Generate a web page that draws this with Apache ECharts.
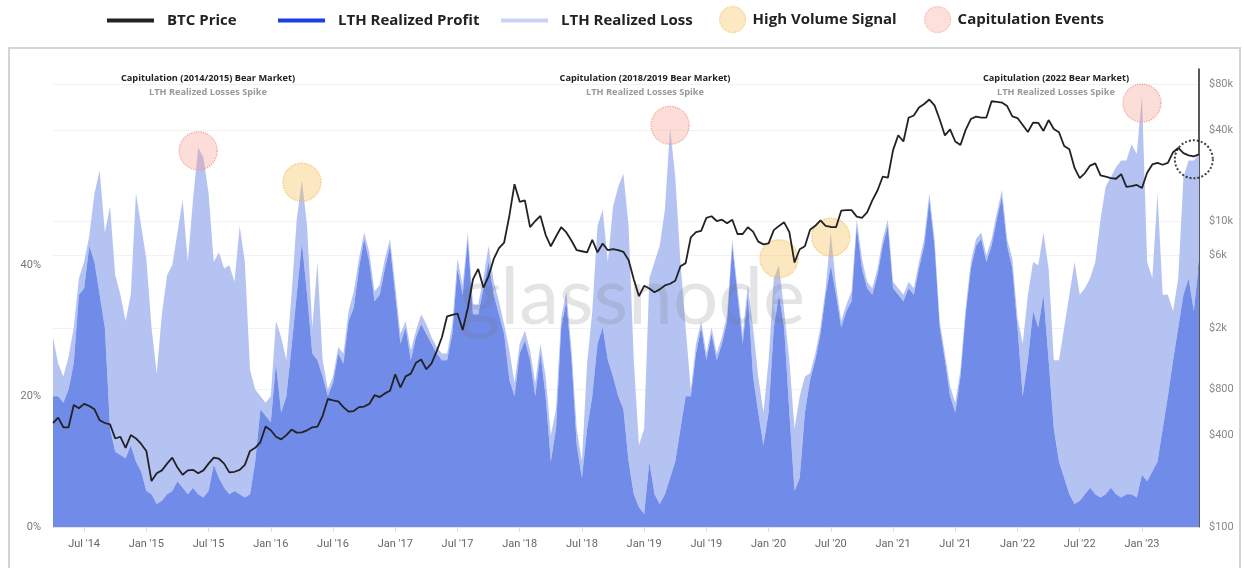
<!DOCTYPE html>
<html>
<head>
<meta charset="utf-8">
<script src="https://cdn.jsdelivr.net/npm/echarts@6/dist/echarts.min.js"></script>
<style>
  html, body { margin: 0; padding: 0; background: #fff; }
  #chart { width: 1244px; height: 568px; }
</style>
</head>
<body>
<div id="chart"></div>
<script>
// semi-monthly sample dates, 2014-04-01 .. 2023-06-15
var dates = [];
for (var y = 2014; y <= 2023; y++) {
  for (var m = 1; m <= 12; m++) {
    ['01', '15'].forEach(function (d) {
      var s = y + '-' + (m < 10 ? '0' + m : m) + '-' + d;
      if (s >= '2014-04-01' && s <= '2023-06-15') dates.push(s);
    });
  }
}

// BTC price (USD)
var btcPrice = [
  480, 520, 450, 450, 630, 600, 640, 620, 590, 500, 480, 470, 380, 390, 330, 400, 380, 350,
  315, 200, 225, 235, 260, 285, 245, 220, 235, 237, 225, 235, 260, 285, 280, 260, 228, 230, 237, 255, 315, 330, 360, 455,
  430, 390, 375, 400, 435, 415, 417, 430, 450, 455, 535, 690, 675, 665, 610, 570, 575, 610, 615, 640, 730, 710, 750, 780,
  1000, 820, 970, 1010, 1190, 1250, 1080, 1180, 1420, 1750, 2400, 2450, 2500, 1950, 2720, 4200, 4900, 3700, 4400, 5700, 6700, 7300, 10900, 17600,
  13500, 13800, 9200, 10100, 10900, 8200, 6900, 8000, 9200, 8500, 7500, 6500, 6400, 6300, 7600, 6300, 7200, 6500, 6600, 6500, 6350, 5600, 4200, 3250,
  3800, 3650, 3450, 3600, 3820, 3920, 4100, 5100, 5350, 7900, 8550, 8700, 10600, 10850, 10100, 10300, 9750, 10300, 8300, 8300, 9200, 8600, 7400, 7100,
  7200, 8800, 9380, 9900, 8550, 5400, 6600, 6900, 8850, 9400, 10200, 9400, 9230, 9200, 11800, 11900, 11900, 10800, 10600, 11500, 13800, 16000, 19700, 19400,
  29400, 36800, 33500, 47900, 49600, 56000, 59000, 63100, 57800, 46700, 36700, 40200, 33500, 31800, 39900, 47000, 48800, 48100, 48100, 61500, 61000, 60300, 57200, 48900,
  47700, 43000, 38700, 44500, 44400, 39300, 46300, 40500, 38500, 31300, 29800, 22500, 19300, 20800, 23300, 24100, 20100, 19700, 19300, 19100, 20500, 16900, 17100, 17400,
  16600, 20900, 23700, 24300, 23600, 24300, 28500, 30400, 28100, 27200, 26800, 27600
];

// LTH realized profit share (%)
var lthProfit = [
  20, 20, 19, 21, 25, 35.5, 36.5, 43, 40.5, 35.5,
  30.5, 15, 11.5, 11, 10.5, 12.5, 10, 8.5, 5.5, 5,
  3.5, 4, 5, 5.5, 7, 6, 5, 6, 5, 4.5,
  5.5, 9.5, 7.5, 6, 5, 5.5, 5, 4.5, 5, 10,
  18, 17, 16, 25, 17.5, 20, 27.5, 35.5, 43.5, 35.5,
  26.5, 25.5, 23, 20, 22, 26.5, 25, 31.5, 33.5, 39.5,
  44, 40.5, 34.5, 35.5, 39.5, 43, 35.5, 28, 30.5, 25.5,
  29, 31, 29.5, 28, 26.5, 25.5, 25.5, 29.5, 39.5, 35.5,
  44, 32.5, 32.5, 36.5, 40.5, 35.5, 32.5, 29.5, 22.5, 20,
  26.5, 28.5, 25.5, 20, 26.5, 20, 10, 15, 30.5, 34.5,
  25.5, 12.5, 7.5, 15, 20, 28, 30.5, 25.5, 23, 20,
  18, 10, 5, 3, 2, 10, 5, 3.5, 5, 7.5,
  10, 15, 20, 20, 26.5, 30.5, 25.5, 29.5, 25.5, 28,
  31.5, 43, 35.5, 28, 35.5, 23, 17.5, 12.5, 17.5, 30.5,
  35.5, 30.5, 17.5, 5.5, 7.5, 17.5, 22.5, 25.5, 29.5, 35.5,
  40, 35.5, 30.5, 33, 34.5, 46, 39.5, 36.5, 35.5, 38.5,
  43, 46, 36.5, 35.5, 34.5, 36.5, 35.5, 39.5, 43, 50,
  43, 30.5, 25.5, 20, 17.5, 23, 32.5, 39.5, 43, 44,
  40.5, 43, 47, 50.5, 43, 39.5, 30.5, 20, 25.5, 33,
  30.5, 35.5, 25.5, 15, 10, 7.5, 5, 3.5, 4, 5,
  6, 5, 4.5, 5, 6, 5, 4.5, 5, 5, 4.5,
  8, 7, 8.5, 10, 15, 20, 25.5, 30.5, 35.5, 38, 33, 40.5
];

// LTH realized loss share (%), stacked on top of profit
var lthLoss = [
  9, 5, 4, 5, 5.5, 2.5, 4, 1.5, 10.5, 19,
  14.5, 34, 27, 24.5, 21, 23, 41, 37.5, 35.5, 25.5,
  20, 28.5, 33.5, 34.5, 38, 44, 35.5, 44, 53, 52,
  45.5, 31, 34.5, 33.5, 35, 32, 41, 36, 19, 11,
  2, 2, 4, 6.5, 11.5, 5.5, 8, 11.5, 9.5, 10.5,
  4, 15, 2.5, 1, 1, 1, 1.5, 1.5, 2.5, 1.5,
  1, 1.5, 1.5, 1.5, 1.5, 1, 1.5, 1.5, 1, 1.5,
  1, 1.5, 1.5, 1, 1, 1, 1, 1.5, 1.5, 1.5,
  1, 1.5, 1.5, 1.5, 2.5, 2, 2, 1.5, 4.5, 2,
  1.5, 1.5, 1.5, 2, 1.5, 3, 4, 3, 1.5, 1.5,
  1.5, 2.5, 2.5, 10, 13, 18, 18, 15, 26, 32,
  36, 36, 20.5, 9.5, 13, 28, 35.5, 39.5, 43.5, 53.5,
  43.5, 25.5, 10.5, 1, 1.5, 1, 1, 1, 1, 1,
  1, 1, 1, 1.5, 1.5, 7.5, 5.5, 5, 8, 7.5,
  4.5, 2.5, 8, 9.5, 12.5, 5.5, 1, 1, 1, 1,
  5, 1.5, 1, 1, 1.5, 1, 1.5, 1, 1, 1,
  1, 1, 1, 1, 1, 1, 1, 1, 1, 1,
  1, 1, 1, 1.5, 1.5, 1, 1, 1, 1, 1,
  1, 1, 1, 1, 1, 1.5, 1.5, 8, 10, 7.5,
  9.5, 9.5, 14, 10.5, 15.5, 23, 30.5, 37, 31.5, 31.5,
  32, 35.5, 42.5, 47, 47.5, 50, 51.5, 51, 53.5, 52.5,
  58, 33.5, 29.5, 41, 20.5, 15.5, 7.5, 7.5, 18, 18, 23, 16.5
];

// highlighted events (date, % level)
var capDates = ['2015-06-01', '2019-03-15', '2023-01-01'];
var capLevels = [57.5, 61.4, 64.8];
var hvDates = ['2016-04-01', '2020-02-01', '2020-07-01'];
var hvLevels = [52.7, 41, 44.3];
var nowDates = ['2023-06-01'];
var nowLevels = [56.2];

var priceTicks = [100, 400, 800, 2000, 6000, 10000, 40000, 80000];
var pctTicks = [0, 20, 40];

var notes = [
  { title: 'Capitulation (2014/2015) Bear Market)', x: 208 },
  { title: 'Capitulation (2018/2019 Bear Market)', x: 645 },
  { title: 'Capitulation (2022 Bear Market)', x: 1056 }
];

function pairs(xs, ys) {
  return xs.map(function (d, i) { return [d, ys[i]]; });
}

function isHalfYear(idx, val) {
  return /-(01|07)-01$/.test(val);
}

var chart = echarts.init(document.getElementById('chart'));

var legendFont = { fontFamily: 'Open Sans', fontWeight: 'bold', fontSize: 15, color: '#222' };

function lineLegend(name, left, color) {
  return {
    left: left, top: 8, itemWidth: 47, itemHeight: 4, selectedMode: false,
    data: [{ name: name, icon: 'rect', itemStyle: { color: color, borderWidth: 0 } }],
    textStyle: Object.assign({ padding: [0, 0, 0, 8] }, legendFont)
  };
}
function dotLegend(name, left, fill, border) {
  return {
    left: left, top: 1, itemWidth: 26, itemHeight: 26, selectedMode: false,
    data: [{ name: name, icon: 'circle', itemStyle: { color: fill, borderColor: border, borderWidth: 1.2, borderType: 'dotted' } }],
    textStyle: Object.assign({ padding: [0, 0, 0, 2] }, legendFont)
  };
}

var graphics = [
  { type: 'rect', shape: { x: 9, y: 48, width: 1231, height: 540 }, style: { fill: 'none', stroke: '#d4d4d4', lineWidth: 2 }, z: 0 },
  { type: 'text', x: 632, y: 298, z: 3, style: { text: 'glassnode', font: 'normal 80px Lato', fill: 'rgba(120,120,120,0.2)', textAlign: 'center', textVerticalAlign: 'middle' } }
];
notes.forEach(function (n) {
  graphics.push({ type: 'text', x: n.x, y: 78, z: 20, style: { text: n.title, font: 'bold 9.2px "Open Sans"', fill: '#222', textAlign: 'center', textVerticalAlign: 'middle' } });
  graphics.push({ type: 'text', x: n.x, y: 92, z: 20, style: { text: 'LTH Realized Losses Spike', font: 'bold 9.2px "Open Sans"', fill: '#999', textAlign: 'center', textVerticalAlign: 'middle' } });
});

var option = {
  animation: false,
  backgroundColor: '#fff',
  textStyle: { fontFamily: 'Roboto' },
  legend: [
    lineLegend('BTC Price', 102, '#222'),
    lineLegend('LTH Realized Profit', 273, '#1c3fe2'),
    lineLegend('LTH Realized Loss', 496, '#c8d3f6'),
    dotLegend('High Volume Signal', 714, '#fbe4b4', '#f3c36c'),
    dotLegend('Capitulation Events', 919, '#fcd8d3', '#f3a49a')
  ],
  graphic: graphics,
  grid: { left: 53, right: 45, top: 69, bottom: 41, outerBoundsMode: 'none' },
  xAxis: {
    type: 'category',
    data: dates,
    boundaryGap: false,
    axisLine: { show: true, lineStyle: { color: '#e3e3e3' } },
    axisTick: { show: true, interval: isHalfYear, length: 5, lineStyle: { color: '#dedede' } },
    axisLabel: {
      interval: isHalfYear, color: '#666', fontSize: 11, margin: 12,
      formatter: function (v) {
        return (v.slice(5, 7) === '01' ? 'Jan' : 'Jul') + " '" + v.slice(2, 4);
      }
    },
    splitLine: { show: false }
  },
  yAxis: [
    {
      type: 'value', min: 0, max: 70, interval: 20, position: 'left',
      axisLine: { show: false }, axisTick: { show: false },
      axisLabel: {
        customValues: pctTicks, color: '#777', fontSize: 11, margin: 12,
        formatter: function (v) { return v >= 60 ? '' : v + '%'; }
      },
      splitLine: { show: false }
    },
    {
      type: 'log', logBase: 10, min: 100, max: 100000, position: 'right',
      axisLine: { show: true, lineStyle: { color: '#222', width: 1.5 } },
      axisTick: { show: false, customValues: priceTicks },
      axisLabel: {
        customValues: priceTicks, color: '#888', fontSize: 11, margin: 10,
        formatter: function (v) { return '$' + (v >= 1000 ? (v / 1000) + 'k' : v); }
      },
      splitLine: { show: true, lineStyle: { color: '#f2f2f2' } }
    }
  ],
  series: [
    {
      name: 'LTH Realized Profit', type: 'line', stack: 'lth', data: lthProfit,
      symbol: 'none', lineStyle: { width: 0 }, itemStyle: { color: '#718be9' },
      areaStyle: { color: '#718be9', opacity: 1 }, z: 2
    },
    {
      name: 'LTH Realized Loss', type: 'line', stack: 'lth', data: lthLoss,
      symbol: 'none', lineStyle: { width: 0 }, itemStyle: { color: '#b5c3f3' },
      areaStyle: { color: '#b5c3f3', opacity: 1 }, z: 1
    },
    {
      name: 'High Volume Signal', type: 'scatter', data: pairs(hvDates, hvLevels),
      symbolSize: 38, z: 4,
      itemStyle: { color: 'rgba(246,190,80,0.45)', borderColor: '#f1b54d', borderWidth: 1.2, borderType: 'dotted' }
    },
    {
      name: 'Capitulation Events', type: 'scatter', data: pairs(capDates, capLevels),
      symbolSize: 38, z: 4,
      itemStyle: { color: 'rgba(248,160,148,0.45)', borderColor: '#f08d80', borderWidth: 1.2, borderType: 'dotted' }
    },
    {
      name: 'Now', type: 'scatter', data: pairs(nowDates, nowLevels),
      symbolSize: 38, z: 11,
      itemStyle: { color: 'rgba(0,0,0,0)', borderColor: '#111', borderWidth: 2, borderType: 'dotted' }
    },
    {
      name: 'BTC Price', type: 'line', yAxisIndex: 1, data: btcPrice,
      symbol: 'none', itemStyle: { color: '#222' },
      lineStyle: { color: '#222', width: 1.8 }, z: 10
    }
  ]
};

chart.setOption(option);
</script>
</body>
</html>
